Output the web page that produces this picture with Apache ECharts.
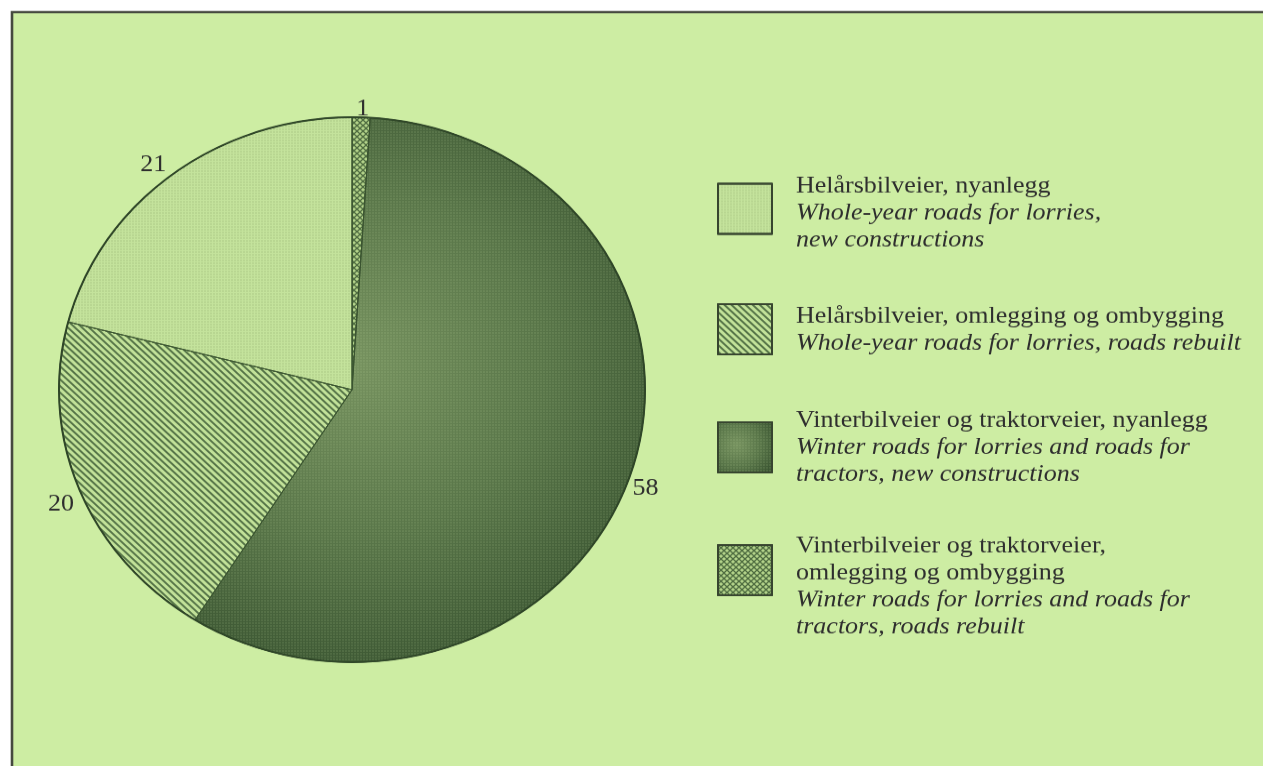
<!DOCTYPE html>
<html><head><meta charset="utf-8">
<script src="https://cdn.jsdelivr.net/npm/echarts@6/dist/echarts.min.js"></script>
<style>
html,body{margin:0;padding:0;background:#fff;overflow:hidden;width:1263px;height:766px}
/* the scanned original is stretched: draw in a taller box and squeeze vertically */
#chart{position:absolute;left:0;top:0;width:1263px;height:824px;transform:scaleY(0.93);transform-origin:0 0}
</style></head><body>
<div id="chart"></div>
<script>
// ---- data (clockwise from top) ----
const categories = [
  'Vinterbilveier og traktorveier, omlegging og ombygging',
  'Vinterbilveier og traktorveier, nyanlegg',
  'Helårsbilveier, omlegging og ombygging',
  'Helårsbilveier, nyanlegg'
];
const values = [1, 58, 20, 21];
// legend order (top to bottom)
const legendOrder = [
  'Helårsbilveier, nyanlegg',
  'Helårsbilveier, omlegging og ombygging',
  'Vinterbilveier og traktorveier, nyanlegg',
  'Vinterbilveier og traktorveier, omlegging og ombygging'
];
const legendNoLines = [
  ['Helårsbilveier, nyanlegg'],
  ['Helårsbilveier, omlegging og ombygging'],
  ['Vinterbilveier og traktorveier, nyanlegg'],
  ['Vinterbilveier og traktorveier,', 'omlegging og ombygging']
];
const legendEnLines = [
  ['Whole-year roads for lorries,', 'new constructions'],
  ['Whole-year roads for lorries, roads rebuilt'],
  ['Winter roads for lorries and roads for', 'tractors, new constructions'],
  ['Winter roads for lorries and roads for', 'tractors, roads rebuilt']
];

// ---- styles ----
const FONT = '"Liberation Serif", "Times New Roman", serif';
const styles = {
  'Vinterbilveier og traktorveier, omlegging og ombygging': {
    color: '#b3d38a',
    decal: { symbol: 'path://M0,0L1.5,0L10,8.5L10,10L8.5,10L0,1.5ZM8.5,0L10,0L10,1.5L1.5,10L0,10L0,8.5Z',
      symbolSize: 1, dashArrayX: [6, 0], dashArrayY: [6, 0], color: '#4e6c40' }
  },
  'Vinterbilveier og traktorveier, nyanlegg': {
    color: { type: 'radial', x: 0.35, y: 0.45, r: 0.75,
      colorStops: [{ offset: 0, color: '#76925f' }, { offset: 0.55, color: '#597649' }, { offset: 1, color: '#3c5733' }] },
    decal: { symbol: 'circle', symbolSize: 0.7, dashArrayX: [2, 1], dashArrayY: [2, 1], color: 'rgba(200,228,170,0.32)' }
  },
  'Helårsbilveier, omlegging og ombygging': {
    color: '#c2e299',
    decal: { symbol: 'rect', symbolSize: 1, dashArrayX: [1, 0], dashArrayY: [2, 3], rotation: Math.PI / 4, color: '#567548' }
  },
  'Helårsbilveier, nyanlegg': {
    color: '#c4e39c',
    decal: { symbol: 'circle', symbolSize: 0.8, dashArrayX: [2, 1], dashArrayY: [2, 1], color: 'rgba(120,150,90,0.35)' }
  }
};
// small per-label nudges to sit where the original labels sit
const labelPadsX = [[0, 0, 0, -10], [0, 0, 0, -8], [0, -4, 0, 0], [0, -2, 0, 0]];
const labelPadsY = [[0, 0, 8, 0], [28, 0, 0, 0], [26, 0, 0, 0], [0, 0, 13, 0]];
const labelRich = {};
labelPadsY.forEach((p, i) => {
  labelRich['v' + i] = { fontFamily: FONT, fontSize: 26, color: '#2e2e2e', padding: p };
});

const chart = echarts.init(document.getElementById('chart'));

// legend placement (drawing units, before the vertical squeeze)
const legendTops = [187, 326, 439, 574];
const legendPads = [[9, 0, 0, 19], [2, 0, 0, 19], [0, 0, 0, 19], [35, 0, 0, 19]];
const legends = legendOrder.map((name, k) => ({
  data: [name], left: 717, top: legendTops[k], orient: 'vertical', padding: 0,
  itemWidth: 54, itemHeight: 54, icon: 'rect', selectedMode: false,
  itemStyle: { borderColor: '#37452f', borderWidth: 2 },
  formatter: () => legendNoLines[k].map(s => '{a|' + s + '}')
    .concat(legendEnLines[k].map(s => '{b|' + s + '}')).join('\n'),
  textStyle: {
    padding: legendPads[k],
    rich: {
      a: { fontFamily: FONT, fontSize: 26, lineHeight: 29, color: '#2e2e2e' },
      b: { fontFamily: FONT, fontSize: 26, lineHeight: 29, color: '#2e2e2e', fontStyle: 'italic' }
    }
  }
}));

chart.setOption({
  animation: false,
  backgroundColor: '#ffffff',
  graphic: [{
    type: 'rect', z: -10, silent: true,
    shape: { x: 12, y: 13, width: 1300, height: 900 },
    style: { fill: '#cdeda3', stroke: '#45493f', lineWidth: 2.6 }
  }],
  legend: legends,
  series: [{
    type: 'pie', center: [352, 419], radius: 293, startAngle: 90, clockwise: true,
    avoidLabelOverlap: false, silent: true,
    label: { show: true, position: 'outside', formatter: p => '{v' + p.dataIndex + '|' + p.value + '}',
      fontFamily: FONT, fontSize: 26, color: '#2e2e2e', rich: labelRich },
    labelLine: { show: false, length: 5, length2: 0 },
    emphasis: { disabled: true },
    data: categories.map((c, i) => ({
      name: c, value: values[i],
      label: { padding: labelPadsX[i] },
      itemStyle: Object.assign({ borderColor: '#3a5430', borderWidth: 1 }, styles[c])
    }))
  }, {
    // outer outline of the pie
    type: 'pie', center: [352, 419], radius: 293, silent: true,
    label: { show: false }, labelLine: { show: false },
    itemStyle: { color: 'transparent', borderColor: '#2f4628', borderWidth: 2 },
    emphasis: { disabled: true },
    data: [{ value: 1, name: '' }]
  }]
});
</script>
</body></html>
